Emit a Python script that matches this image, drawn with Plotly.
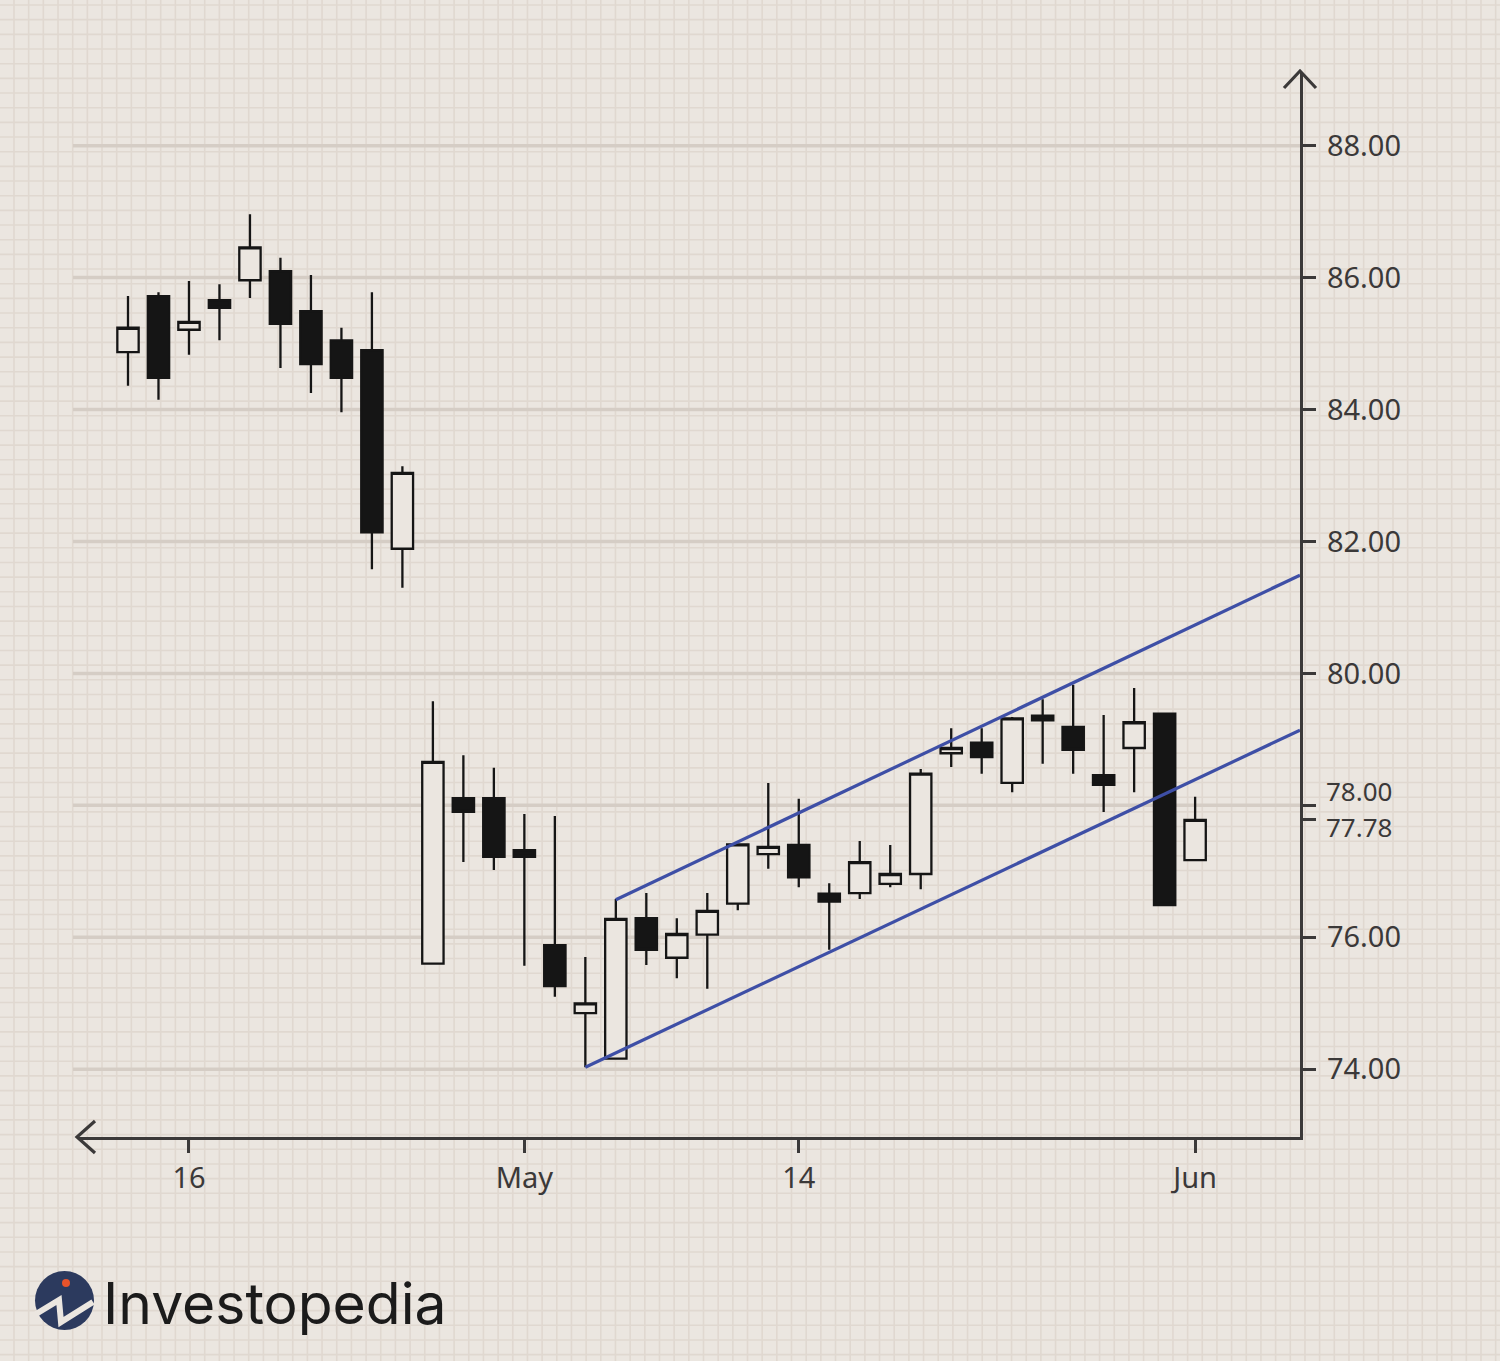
import plotly.graph_objects as go

# ---------------- data ----------------
DATES = ["2018-04-12", "2018-04-13", "2018-04-16", "2018-04-17", "2018-04-18", "2018-04-19",
         "2018-04-20", "2018-04-23", "2018-04-24", "2018-04-25", "2018-04-26", "2018-04-27",
         "2018-04-30", "2018-05-01", "2018-05-02", "2018-05-03", "2018-05-04", "2018-05-07",
         "2018-05-08", "2018-05-09", "2018-05-10", "2018-05-11", "2018-05-14", "2018-05-15",
         "2018-05-16", "2018-05-17", "2018-05-18", "2018-05-21", "2018-05-22", "2018-05-23",
         "2018-05-24", "2018-05-25", "2018-05-29", "2018-05-30", "2018-05-31", "2018-06-01"]
OPEN = [84.87, 85.72, 85.21, 85.66, 85.96, 86.10, 85.49, 85.05, 84.90, 81.89, 75.60, 78.11,
        78.11, 77.32, 75.88, 74.85, 74.16, 76.29, 75.69, 76.04, 76.51, 77.26, 77.40, 76.66,
        76.67, 76.81, 76.96, 78.79, 78.95, 78.34, 79.36, 79.19, 78.46, 78.87, 79.39, 77.17]
HIGH = [85.72, 85.78, 85.95, 85.90, 86.96, 86.30, 86.04, 85.24, 85.78, 83.14, 79.58, 78.76,
        78.57, 77.87, 77.84, 75.70, 76.58, 76.67, 76.29, 76.67, 77.41, 78.34, 78.10, 76.82,
        77.46, 77.40, 78.55, 79.17, 79.17, 79.34, 79.61, 79.83, 79.37, 79.78, 79.39, 78.13]
LOW = [84.36, 84.15, 84.83, 85.05, 85.69, 84.63, 84.25, 83.96, 81.58, 81.30, 75.60, 77.14,
       77.02, 75.57, 75.10, 74.03, 74.16, 75.58, 75.38, 75.22, 76.41, 77.04, 76.76, 75.81,
       76.58, 76.76, 76.73, 78.58, 78.48, 78.20, 78.63, 78.48, 77.90, 78.20, 76.49, 77.17]
CLOSE = [85.24, 84.48, 85.33, 85.54, 86.46, 85.30, 84.69, 84.48, 82.14, 83.04, 78.66, 77.90,
         77.22, 77.22, 75.26, 75.00, 76.28, 75.81, 76.05, 76.40, 77.41, 77.37, 76.91, 76.54,
         77.14, 76.96, 78.48, 78.87, 78.73, 79.32, 79.29, 78.84, 78.31, 79.26, 76.49, 77.78]

X_TICK_DATES = ["2018-04-16", "2018-05-01", "2018-05-14", "2018-06-01"]
X_TICK_TEXT = ["16", "May", "14", "Jun"]

Y_TICK_VALUES = [74, 76, 80, 82, 84, 86, 88]
Y_TICK_TEXT = ["74.00", "76.00", "80.00", "82.00", "84.00", "86.00", "88.00"]
Y_SPECIAL_VALUES = [78, 77.78]
Y_SPECIAL_TEXT = ["78.00", "77.78"]
GRID_VALUES = [74, 76, 78, 80, 82, 84, 86, 88]

# channel lines: (start day index, start price) -> (end position, end price)
UPPER_CHANNEL_X = [16, 38.44]
UPPER_CHANNEL_Y = [76.57, 81.49]
LOWER_CHANNEL_X = [15, 38.44]
LOWER_CHANNEL_Y = [74.03, 79.14]

# ---------------- styling ----------------
W, H = 1500, 1361
ML, MR, MT, MB = 78, 200, 72, 224
BG = "#ebe6e0"
PAPER_GRID = "#e0d8d0"
MAJOR_GRID = "#d5cdc5"
AXIS = "#3b3939"
INK = "#151515"
BLUE = "#3e4fa6"
FONT = "Noto Sans"

PW = W - ML - MR
PH = H - MT - MB


def PX(px):
    return (px - ML) / PW


def PY(py):
    return (H - MB - py) / PH


x_idx = list(range(len(DATES)))
tick_idx = [DATES.index(d) for d in X_TICK_DATES]

fig = go.Figure()
fig.add_trace(go.Candlestick(
    x=x_idx, open=OPEN, high=HIGH, low=LOW, close=CLOSE,
    increasing=dict(line=dict(color=INK, width=2.3), fillcolor=BG),
    decreasing=dict(line=dict(color=INK, width=2.3), fillcolor=INK),
    whiskerwidth=0, showlegend=False, hoverinfo="skip",
))
fig.add_trace(go.Scatter(x=UPPER_CHANNEL_X, y=UPPER_CHANNEL_Y, mode="lines",
                         line=dict(color=BLUE, width=3.2), showlegend=False, hoverinfo="skip"))
fig.add_trace(go.Scatter(x=LOWER_CHANNEL_X, y=LOWER_CHANNEL_Y, mode="lines",
                         line=dict(color=BLUE, width=3.2), showlegend=False, hoverinfo="skip"))

shapes = []
# graph-paper background
step = 14.67
k = 0
while True:
    px = 14 + step * k
    if px > W:
        break
    shapes.append(dict(type="line", xref="paper", yref="paper", x0=PX(px), x1=PX(px),
                       y0=PY(0), y1=PY(H), line=dict(color=PAPER_GRID, width=1.6), layer="below"))
    k += 1
k = 0
while True:
    py = 5 + step * k
    if py > H:
        break
    shapes.append(dict(type="line", xref="paper", yref="paper", x0=PX(0), x1=PX(W),
                       y0=PY(py), y1=PY(py), line=dict(color=PAPER_GRID, width=1.6), layer="below"))
    k += 1
# major gridlines
for v in GRID_VALUES:
    shapes.append(dict(type="line", xref="paper", yref="y", x0=PX(73), x1=1, y0=v, y1=v,
                       line=dict(color=MAJOR_GRID, width=3.5), layer="below"))
# axis arrows
shapes.append(dict(type="path", xref="paper", yref="paper",
                   path=f"M {PX(1284)} {PY(88)} L {PX(1300)} {PY(71)} L {PX(1316)} {PY(88)}",
                   line=dict(color=AXIS, width=3.2)))
shapes.append(dict(type="path", xref="paper", yref="paper",
                   path=f"M {PX(95)} {PY(1121)} L {PX(77)} {PY(1137)} L {PX(95)} {PY(1153)}",
                   line=dict(color=AXIS, width=3.2)))
shapes.append(dict(type="line", xref="paper", yref="paper", x0=PX(77), x1=0, y0=0, y1=0,
                   line=dict(color=AXIS, width=3.2)))
shapes.append(dict(type="line", xref="paper", yref="paper", x0=1, x1=1, y0=1, y1=PY(71),
                   line=dict(color=AXIS, width=3.2)))
# logo
shapes.append(dict(type="circle", xref="paper", yref="paper", x0=PX(35), x1=PX(94),
                   y0=PY(1330), y1=PY(1271), fillcolor="#2c3a5e", line=dict(width=0)))
shapes.append(dict(type="path", xref="paper", yref="paper",
                   path=(f"M {PX(36)} {PY(1314)} L {PX(59)} {PY(1300)} L {PX(61)} {PY(1322)} "
                         f"L {PX(93)} {PY(1302)}"),
                   line=dict(color=BG, width=6)))
shapes.append(dict(type="circle", xref="paper", yref="paper", x0=PX(62), x1=PX(70),
                   y0=PY(1287), y1=PY(1279), fillcolor="#e8532b", line=dict(width=0)))

annotations = []
for v, t, shift in zip(Y_SPECIAL_VALUES, Y_SPECIAL_TEXT, [14, -7.5]):
    annotations.append(dict(x=1, xref="paper", y=v, yref="y", text=t, showarrow=False,
                            xanchor="left", yanchor="middle", xshift=25, yshift=shift,
                            borderpad=0,
                            font=dict(family=FONT, size=26, color=AXIS)))
annotations.append(dict(x=PX(101), xref="paper", y=PY(1303), yref="paper", text="Investopedia",
                        showarrow=False, xanchor="left", yanchor="middle",
                        font=dict(family="Inter", size=57, color="#1b1b1b")))

fig.update_layout(
    width=W, height=H,
    margin=dict(l=ML, r=MR, t=MT, b=MB),
    paper_bgcolor=BG, plot_bgcolor="rgba(0,0,0,0)",
    showlegend=False,
    boxgap=0.3, boxgroupgap=0,
    shapes=shapes, annotations=annotations,
    xaxis=dict(range=[-1.64, 38.44], rangeslider=dict(visible=False),
               tickvals=tick_idx, ticktext=X_TICK_TEXT,
               showgrid=False, zeroline=False, showline=True, linecolor=AXIS, linewidth=3.2,
               ticks="outside", ticklen=13, tickwidth=3.2, tickcolor=AXIS,
               tickfont=dict(family=FONT, size=29, color=AXIS), ticklabelstandoff=0),
    yaxis=dict(range=[72.973, 89.117], side="right",
               tickvals=Y_TICK_VALUES + Y_SPECIAL_VALUES,
               ticktext=Y_TICK_TEXT + ["", ""],
               showgrid=False, zeroline=False, showline=True, linecolor=AXIS, linewidth=3.2,
               ticks="outside", ticklen=13, tickwidth=3.2, tickcolor=AXIS,
               tickfont=dict(family=FONT, size=29, color=AXIS), ticklabelstandoff=5),
)

fig.write_html("out.html", config={"displayModeBar": False},
               post_script="document.body.style.margin='0';")
